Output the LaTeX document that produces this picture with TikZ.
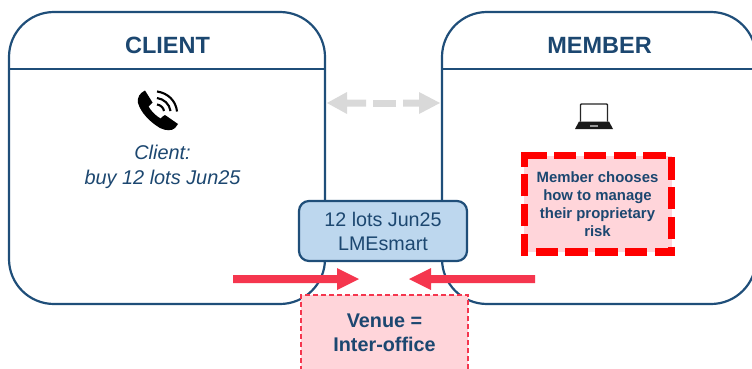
\documentclass[tikz,border=0pt]{standalone}
\usepackage{fontspec}
\setmainfont{Liberation Sans}
\definecolor{navy}{HTML}{1F4E79}
\definecolor{ink}{HTML}{1C4770}
\definecolor{lblue}{HTML}{BDD7EE}
\definecolor{lpink}{HTML}{FFD5DA}
\definecolor{rosered}{HTML}{F5364E}
\definecolor{lgrey}{HTML}{D9D9D9}
\tikzset{
  partybox/.style={draw=navy,line width=2.2pt,fill=white,rounded corners=45pt},
  headtext/.style={text=ink,font=\bfseries\fontsize{23.5}{27}\selectfont,anchor=center},
  bodytext/.style={text=ink,align=center,anchor=center},
  bigarrow/.style={fill=rosered,draw=none},
  greyarrow/.style={fill=lgrey,draw=none},
}
\begin{document}
\begin{tikzpicture}[x=1pt,y=-1pt]
\useasboundingbox (0,0) rectangle (752,369);
\clip (0,0) rectangle (752,369);
% party boxes
\draw[partybox] (9,12) rectangle (325,304);
\draw[navy,line width=2.2pt] (9,69) -- (325,69);
\draw[partybox] (442,12) rectangle (756,304);
\draw[navy,line width=2.2pt] (442,69) -- (752,69);
\node[headtext] (clienthead) at (167.5,45.5) {CLIENT};
\node[headtext] (memberhead) at (599.5,45.5) {MEMBER};
% phone icon
\fill[black] (145,90.5) -- (152.5,102.5) .. controls (151,105) and (149,105.5) .. (148.5,106.5)
  .. controls (151,111) and (156,116) .. (160.5,118.5) .. controls (162,117.5) and (163,115.5) .. (165,115)
  -- (178,124) -- (175,128) .. controls (172,131) and (166,131) .. (160,128)
  .. controls (150,122) and (141,113) .. (138,103) .. controls (137,97) and (140,93) .. (145,90.5) -- cycle;
\draw[black,line width=2.1pt] (157,91.5) .. controls (168,93) and (176,101) .. (177,111.5);
\draw[black,line width=2.1pt] (157,98) .. controls (164,99) and (169.5,104) .. (170.5,111);
\draw[black,line width=2.1pt] (157,104.5) .. controls (160.5,105) and (163.5,107.5) .. (164,111);
\node[bodytext,font=\itshape\fontsize{19.9}{25}\selectfont] (clientnote) at (162.5,166.5) {Client:\\buy 12 lots Jun25};
% laptop icon
\draw[black!85,line width=1.4pt,rounded corners=0.8pt] (580.5,121.5) -- (580.5,104) -- (607.5,104) -- (607.5,121.5);
\fill[black!90] (579,121.5) -- (609,121.5) -- (613,129) -- (575,129) -- cycle;
\fill[black!40] (590,125) rectangle (598,127);
% member risk box
\coordinate (riska) at (524.3,155.7);
\coordinate (riskb) at (671.5,252);
\fill[lpink] (riska) rectangle (riskb);
\draw[red,line width=7.3pt,dash pattern=on 22.3pt off 7.45pt] (riska) -- (riskb |- riska) -- (riskb) -- (riska |- riskb) -- cycle;
\fill[red] (520.65,152.05) rectangle (527.95,156);
\node[bodytext,font=\bfseries\fontsize{14.9}{18}\selectfont] (risk) at (597.5,204) {Member chooses\\how to manage\\their proprietary\\risk};
% grey double arrow
\coordinate (gl) at (327,103);
\coordinate (gr) at (440,103);
\fill[greyarrow] (gl) -- ++(20,-11) -- ++(0,7.5) -- ++(19,0) -- ++(0,7) -- ++(-19,0) -- ++(0,7.5) -- cycle;
\fill[greyarrow] (373,99.5) rectangle (396,106.5);
\fill[greyarrow] (gr) -- ++(-21,-11) -- ++(0,7.5) -- ++(-16,0) -- ++(0,7) -- ++(16,0) -- ++(0,7.5) -- cycle;
% venue box
\node[draw=rosered,line width=1.6pt,dash pattern=on 5pt off 3pt,fill=lpink,bodytext,minimum width=167pt,minimum height=75pt,inner sep=0pt,
  font=\bfseries\fontsize{19.8}{24}\selectfont] (venue) at (384.5,332.5) {Venue =\\Inter-office};
% order box
\node[draw=navy,line width=2.2pt,fill=lblue,rounded corners=10pt,bodytext,minimum width=168pt,minimum height=60pt,inner sep=0pt,
  font=\fontsize{19.7}{24}\selectfont] (order) at (383,231) {12 lots Jun25\\LMEsmart};
% red arrows
\coordinate (al) at (359,279);
\coordinate (ar) at (409,279);
\fill[bigarrow] (al) -- ++(-22,-11) -- ++(0,7) -- (233,275) -- (233,283) -- (337,283) -- ++(0,7) -- cycle;
\fill[bigarrow] (ar) -- ++(22,-11) -- ++(0,7) -- (535,275) -- (535,283) -- (431,283) -- ++(0,7) -- cycle;
\end{tikzpicture}
\end{document}
